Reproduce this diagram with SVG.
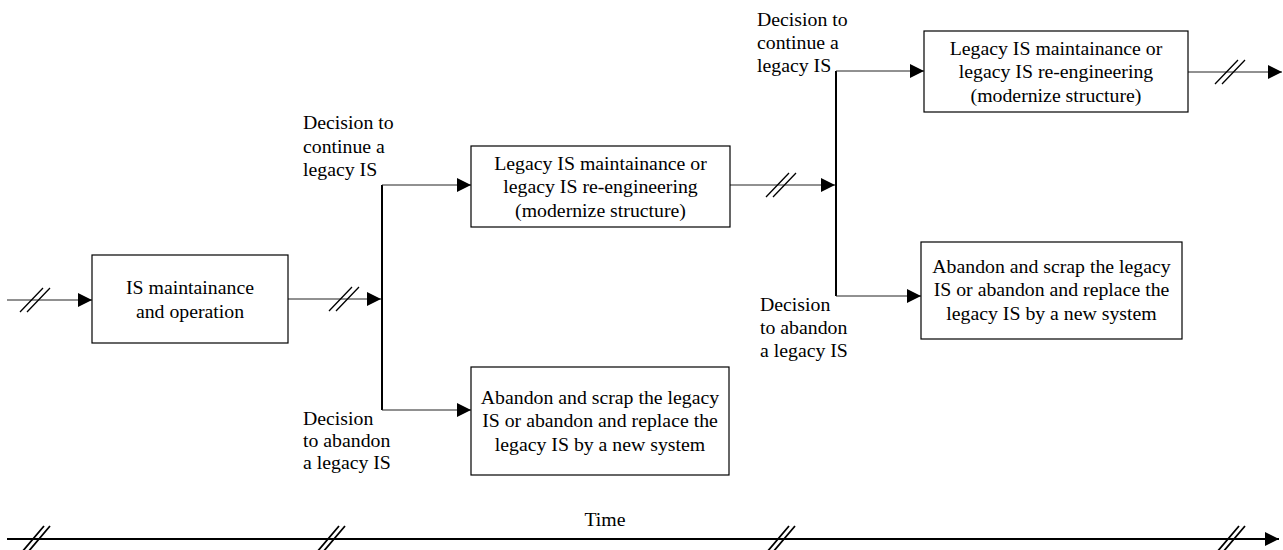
<svg xmlns="http://www.w3.org/2000/svg" xmlns:xlink="http://www.w3.org/1999/xlink" width="1283" height="550" viewBox="0 0 1283 550">
  <style>
    .box { fill: #fff; stroke: #000; stroke-width: 1.2; }
    .txt { font-family: "Liberation Serif", "Times New Roman", Times, serif; font-size: 19.8px; fill: #000; }
    .mid { text-anchor: middle; }
    .conn { fill: none; stroke: #222; stroke-width: 1; }
    .bar { fill: none; stroke: #000; stroke-width: 2; }
    .axis { fill: none; stroke: #000; stroke-width: 2; }
    .brk { fill: none; stroke: #000; stroke-width: 1.3; }
    .brk2 { fill: none; stroke: #000; stroke-width: 1.8; }
  </style>
  <defs>
    <marker id="arrow" markerWidth="15" markerHeight="14" refX="14" refY="7" orient="auto" markerUnits="userSpaceOnUse">
      <path d="M0,0 L14,7 L0,14 Z" fill="#000"/>
    </marker>
    <!-- double-slash break mark, centred on the line it interrupts -->
    <path id="slash" d="M-15,12 L8,-12 M-8,12 L15,-12"/>
    <path id="slashAxis" d="M-14,13 L8,-13 M-8,13 L14,-13"/>
  </defs>

  <!-- connectors -->
  <g id="connectors">
    <!-- into the first node -->
    <line class="conn" x1="7" y1="300" x2="92" y2="300" marker-end="url(#arrow)"/>
    <use xlink:href="#slash" class="brk" x="35" y="300"/>
    <!-- first node to first decision point -->
    <line class="conn" x1="288" y1="299" x2="381" y2="299" marker-end="url(#arrow)"/>
    <use xlink:href="#slash" class="brk" x="344" y="299"/>
    <!-- first decision bar -->
    <line class="bar" x1="382" y1="185" x2="382" y2="410"/>
    <line class="conn" x1="382" y1="185" x2="471" y2="185" marker-end="url(#arrow)"/>
    <line class="conn" x1="382" y1="410" x2="471" y2="410" marker-end="url(#arrow)"/>
    <!-- continued system to second decision point -->
    <line class="conn" x1="730" y1="185" x2="835" y2="185" marker-end="url(#arrow)"/>
    <use xlink:href="#slash" class="brk" x="781" y="185"/>
    <!-- second decision bar -->
    <line class="bar" x1="836" y1="71" x2="836" y2="296"/>
    <line class="conn" x1="836" y1="71" x2="924" y2="71" marker-end="url(#arrow)"/>
    <line class="conn" x1="836" y1="296" x2="921" y2="296" marker-end="url(#arrow)"/>
    <!-- onward from the last continued system -->
    <line class="conn" x1="1188" y1="72" x2="1282" y2="72" marker-end="url(#arrow)"/>
    <use xlink:href="#slash" class="brk" x="1230" y="72"/>
  </g>

  <!-- time axis -->
  <g id="time-axis">
    <line class="axis" x1="7" y1="539" x2="1279" y2="539" marker-end="url(#arrow)"/>
    <use xlink:href="#slashAxis" class="brk2" x="36" y="539"/>
    <use xlink:href="#slashAxis" class="brk2" x="331" y="539"/>
    <use xlink:href="#slashAxis" class="brk2" x="781" y="539"/>
    <use xlink:href="#slashAxis" class="brk2" x="1231" y="539"/>
    <text class="txt mid" x="605" y="526">Time</text>
  </g>

  <!-- nodes -->
  <g id="node-maintenance">
    <rect class="box" x="92" y="255" width="196" height="88"/>
    <text class="txt mid" x="190" y="294">IS maintainance</text>
    <text class="txt mid" x="190" y="318">and operation</text>
  </g>

  <g id="node-reengineer-1">
    <rect class="box" x="471" y="146" width="259" height="81"/>
    <text class="txt mid" x="600.5" y="170">Legacy IS maintainance or</text>
    <text class="txt mid" x="600.5" y="193">legacy IS re-engineering</text>
    <text class="txt mid" x="600.5" y="217">(modernize structure)</text>
  </g>

  <g id="node-abandon-1">
    <rect class="box" x="471" y="367" width="258" height="108"/>
    <text class="txt mid" x="600" y="404">Abandon and scrap the legacy</text>
    <text class="txt mid" x="600" y="427">IS or abandon and replace the</text>
    <text class="txt mid" x="600" y="451">legacy IS by a new system</text>
  </g>

  <g id="node-reengineer-2">
    <rect class="box" x="924" y="31" width="264" height="81"/>
    <text class="txt mid" x="1056" y="55">Legacy IS maintainance or</text>
    <text class="txt mid" x="1056" y="78">legacy IS re-engineering</text>
    <text class="txt mid" x="1056" y="102">(modernize structure)</text>
  </g>

  <g id="node-abandon-2">
    <rect class="box" x="921" y="242" width="261" height="97"/>
    <text class="txt mid" x="1051.5" y="273">Abandon and scrap the legacy</text>
    <text class="txt mid" x="1051.5" y="296">IS or abandon and replace the</text>
    <text class="txt mid" x="1051.5" y="320">legacy IS by a new system</text>
  </g>

  <!-- decision labels -->
  <g id="label-continue-1">
    <text class="txt" x="303" y="129">Decision to</text>
    <text class="txt" x="303" y="153">continue a</text>
    <text class="txt" x="303" y="176">legacy IS</text>
  </g>
  <g id="label-abandon-1">
    <text class="txt" x="303" y="425">Decision</text>
    <text class="txt" x="303" y="447">to abandon</text>
    <text class="txt" x="303" y="469">a legacy IS</text>
  </g>
  <g id="label-continue-2">
    <text class="txt" x="757" y="26">Decision to</text>
    <text class="txt" x="757" y="49">continue a</text>
    <text class="txt" x="757" y="72">legacy IS</text>
  </g>
  <g id="label-abandon-2">
    <text class="txt" x="760" y="311">Decision</text>
    <text class="txt" x="760" y="334">to abandon</text>
    <text class="txt" x="760" y="357">a legacy IS</text>
  </g>
</svg>
